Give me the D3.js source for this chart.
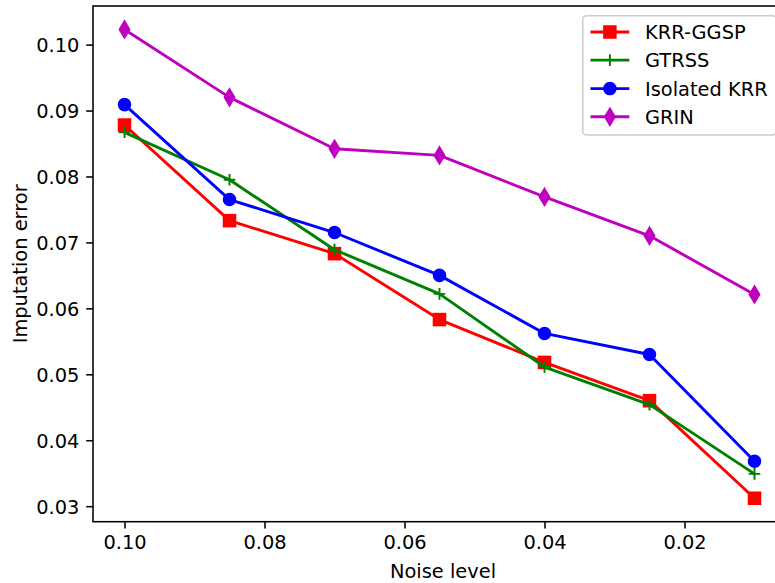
<!DOCTYPE html>
<html>
<head>
<meta charset="utf-8">
<script src="https://cdn.jsdelivr.net/npm/d3@7"></script>
<style>
  html, body { margin: 0; padding: 0; background: #fff; }
  svg { display: block; font-family: "DejaVu Sans", sans-serif; }
</style>
</head>
<body>
<div id="chart"></div>
<script>
// noise levels on the x axis (axis runs from high to low)
const noiseLevels = [0.1, 0.085, 0.07, 0.055, 0.04, 0.025, 0.01];

const krrGgsp = [0.0878, 0.0733, 0.0683, 0.0583, 0.0518, 0.0460, 0.0312];
const gtrss = [0.0867, 0.0795, 0.0689, 0.0622, 0.0511, 0.0454, 0.0349];
const isolatedKrr = [0.0909, 0.0765, 0.0715, 0.0650, 0.0562, 0.0530, 0.0368];
const grin = [0.1023, 0.0920, 0.0842, 0.0832, 0.0769, 0.0710, 0.0621];

const xTicks = [0.10, 0.08, 0.06, 0.04, 0.02];
const yTicks = [0.03, 0.04, 0.05, 0.06, 0.07, 0.08, 0.09, 0.10];

const series = [
  { name: "KRR-GGSP", values: krrGgsp, color: "#ff0000", marker: "square" },
  { name: "GTRSS", values: gtrss, color: "#008000", marker: "plus" },
  { name: "Isolated KRR", values: isolatedKrr, color: "#0000ff", marker: "circle" },
  { name: "GRIN", values: grin, color: "#bf00bf", marker: "diamond" },
];

(function () {
  "use strict";

  const W = 775, H = 583;
  const margin = { top: 6, right: -11, bottom: 61.3, left: 93 };
  const width = W - margin.left - margin.right;
  const height = H - margin.top - margin.bottom;
  const fontSize = 19.4;
  const ms = 11.6;   // marker size
  const mew = 1.94;  // marker edge width

  const svg = d3.select("#chart").append("svg")
    .attr("width", W).attr("height", H);

  const g = svg.append("g")
    .attr("transform", `translate(${margin.left},${margin.top})`);

  // 5% padding like matplotlib
  const xExt = d3.extent(noiseLevels);
  const xPad = (xExt[1] - xExt[0]) * 0.05;
  const x = d3.scaleLinear()
    .domain([xExt[1] + xPad, xExt[0] - xPad])
    .range([0, width]);

  const allY = series.flatMap((s) => s.values);
  const yExt = d3.extent(allY);
  const yPad = (yExt[1] - yExt[0]) * 0.05;
  const y = d3.scaleLinear()
    .domain([yExt[0] - yPad, yExt[1] + yPad])
    .range([height, 0]);

  // ---------- AXES ----------
  const xAxis = g.append("g")
    .attr("transform", `translate(0,${height})`)
    .call(d3.axisBottom(x).tickValues(xTicks).tickFormat(d3.format(".2f"))
      .tickSizeInner(6.8).tickSizeOuter(0).tickPadding(6.8));
  xAxis.select(".domain").remove();
  xAxis.selectAll("line").attr("stroke", "#000").attr("stroke-width", 1.55);
  xAxis.selectAll("text")
    .attr("font-size", fontSize).attr("font-family", "DejaVu Sans")
    .attr("fill", "#000").attr("dy", "0.71em");

  const yAxis = g.append("g")
    .call(d3.axisLeft(y).tickValues(yTicks).tickFormat(d3.format(".2f"))
      .tickSizeInner(6.8).tickSizeOuter(0).tickPadding(6.8));
  yAxis.select(".domain").remove();
  yAxis.selectAll("line").attr("stroke", "#000").attr("stroke-width", 1.55);
  yAxis.selectAll("text")
    .attr("font-size", fontSize).attr("font-family", "DejaVu Sans")
    .attr("fill", "#000").attr("dy", "0.36em");

  // spines
  g.append("rect")
    .attr("x", 0).attr("y", 0)
    .attr("width", width).attr("height", height)
    .attr("fill", "none").attr("stroke", "#000").attr("stroke-width", 1.55);

  // axis labels
  svg.append("text")
    .attr("x", 443)
    .attr("y", 578)
    .attr("text-anchor", "middle")
    .attr("font-size", fontSize)
    .text("Noise level");

  svg.append("text")
    .attr("transform", `translate(26.5,${margin.top + height / 2}) rotate(-90)`)
    .attr("text-anchor", "middle")
    .attr("font-size", fontSize)
    .text("Imputation error");

  // ---------- MARKERS ----------
  function drawMarker(sel, type, color) {
    if (type === "square") {
      sel.append("rect")
        .attr("x", -ms / 2).attr("y", -ms / 2)
        .attr("width", ms).attr("height", ms)
        .attr("fill", color).attr("stroke", color).attr("stroke-width", mew)
        .attr("stroke-linejoin", "miter");
    } else if (type === "circle") {
      sel.append("circle")
        .attr("r", ms / 2)
        .attr("fill", color).attr("stroke", color).attr("stroke-width", mew);
    } else if (type === "diamond") {
      const h = ms * Math.SQRT2 / 2;
      const w = h * 0.6;
      sel.append("path")
        .attr("d", `M0,${-h}L${w},0L0,${h}L${-w},0Z`)
        .attr("fill", color).attr("stroke", color).attr("stroke-width", mew)
        .attr("stroke-linejoin", "miter");
    } else if (type === "plus") {
      sel.append("path")
        .attr("d", `M${-ms / 2},0H${ms / 2}M0,${-ms / 2}V${ms / 2}`)
        .attr("fill", "none").attr("stroke", color).attr("stroke-width", mew);
    }
  }

  // ---------- LINES ----------
  const line = d3.line()
    .x((d) => x(d[0]))
    .y((d) => y(d[1]));

  const plot = g.append("g");
  series.forEach((s) => {
    const pts = noiseLevels.map((n, i) => [n, s.values[i]]);
    const sg = plot.append("g");
    sg.append("path")
      .datum(pts)
      .attr("d", line)
      .attr("fill", "none")
      .attr("stroke", s.color)
      .attr("stroke-width", 2.9)
      .attr("stroke-linejoin", "round");
    pts.forEach((p) => {
      const m = sg.append("g")
        .attr("transform", `translate(${x(p[0])},${y(p[1])})`);
      drawMarker(m, s.marker, s.color);
    });
  });

  // ---------- LEGEND ----------
  const lg = svg.append("g");
  const boxX = 582.7, boxY = 15.7, boxW = 193.6, boxH = 119.3;
  lg.append("rect")
    .attr("x", boxX).attr("y", boxY)
    .attr("width", boxW).attr("height", boxH)
    .attr("rx", 4).attr("ry", 4)
    .attr("fill", "#fff").attr("fill-opacity", 0.8)
    .attr("stroke", "#cccccc").attr("stroke-width", 1.55);

  const rowY = [32, 60.1, 88.6, 116.8];
  series.forEach((s, i) => {
    const row = lg.append("g").attr("transform", `translate(0,${rowY[i]})`);
    row.append("line")
      .attr("x1", 590.5).attr("x2", 629.3)
      .attr("y1", 0).attr("y2", 0)
      .attr("stroke", s.color).attr("stroke-width", 2.9);
    const m = row.append("g").attr("transform", "translate(609.9,0)");
    drawMarker(m, s.marker, s.color);
    row.append("text")
      .attr("x", 645)
      .attr("y", 7)
      .attr("font-size", fontSize)
      .text(s.name);
  });
})();
</script>
</body>
</html>
